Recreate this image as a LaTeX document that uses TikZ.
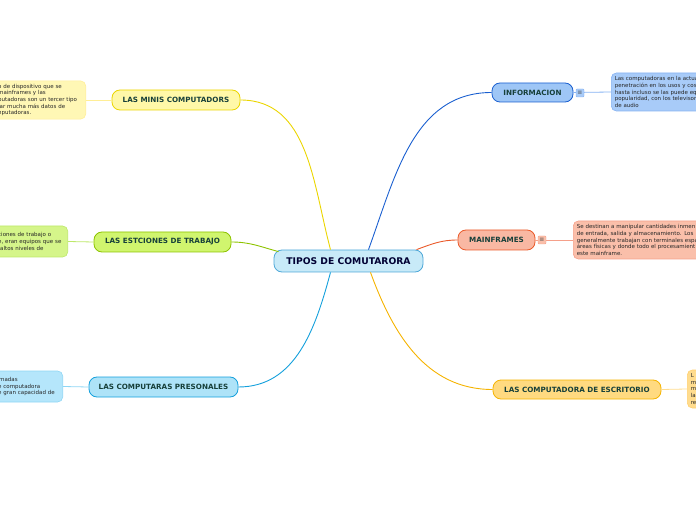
\documentclass[tikz,border=0pt]{standalone}
\usepackage{fontspec}
\setmainfont{DejaVu Sans}
\usepackage{tikz}

\definecolor{inkdark}{HTML}{17403A}
\definecolor{mainfill}{HTML}{C8EAF8}
\definecolor{mainline}{HTML}{4EA8D8}
% topic colours
\definecolor{minifill}{HTML}{FFF8A8}  \definecolor{miniline}{HTML}{EBD500}
\definecolor{estfill}{HTML}{D0F56E}   \definecolor{estline}{HTML}{8DC300}
\definecolor{perfill}{HTML}{AEE3F8}   \definecolor{perline}{HTML}{14A0DC}
\definecolor{inffill}{HTML}{9EC6F6}   \definecolor{infline}{HTML}{1A5FD0}
\definecolor{mfrfill}{HTML}{F9B8A3}   \definecolor{mfrline}{HTML}{EA5A2A}
\definecolor{escfill}{HTML}{FFDA80}   \definecolor{escline}{HTML}{F5B300}
% note colours
\definecolor{nminifill}{HTML}{FFF7B5} \definecolor{nminiline}{HTML}{FFEE96}
\definecolor{nestfill}{HTML}{D5F58A}  \definecolor{nestline}{HTML}{BDE86A}
\definecolor{nperfill}{HTML}{B5E6FB}  \definecolor{nperline}{HTML}{8FD6F5}
\definecolor{ninffill}{HTML}{A8CBF8}  \definecolor{ninfline}{HTML}{86B2F2}
\definecolor{nmfrfill}{HTML}{FABFAA}  \definecolor{nmfrline}{HTML}{F5A08A}
\definecolor{nescfill}{HTML}{FFDC8E}  \definecolor{nescline}{HTML}{FFD070}

\tikzset{
  topicbox/.style={draw, rounded corners=8pt, line width=0.8pt, inner sep=0pt,
    text=inkdark, font=\fontsize{7.2}{8}\selectfont\bfseries},
  notebox/.style={draw, rounded corners=5pt, line width=0.6pt, inner xsep=3.5pt, inner ysep=3pt,
    align=left, text=black!85, font=\fontsize{5.5}{6.7}\selectfont, minimum height=38pt},
  iconbox/.style={draw, rounded corners=1pt, line width=0.4pt, minimum size=8pt, inner sep=0pt,
    font=\fontsize{6}{6}\selectfont, text=black!70},
  branch/.style={line width=0.9pt},
  notelink/.style={line width=0.8pt}
}

\begin{document}
\begin{tikzpicture}[x=1pt,y=1pt]
\useasboundingbox (0,0) rectangle (696,520);
\clip (0,0) rectangle (696,520);

% central topic
\node[topicbox, fill=mainfill, draw=mainline, minimum width=149pt, minimum height=22pt,
  font=\fontsize{9.2}{10}\selectfont\bfseries, text=black!80!blue] (c) at (348.5,259) {TIPOS DE COMUTARORA};

% main topics
\node[topicbox, fill=minifill, draw=miniline, minimum width=128pt, minimum height=20pt] (minis) at (176,420) {LAS MINIS COMPUTADORS};
\node[topicbox, fill=estfill, draw=estline, minimum width=137pt, minimum height=20pt] (estac) at (162.5,278) {LAS ESTCIONES DE TRABAJO};
\node[topicbox, fill=perfill, draw=perline, minimum width=149pt, minimum height=20pt] (perso) at (163.5,133) {LAS COMPUTARAS PRESONALES};
\node[topicbox, fill=inffill, draw=infline, minimum width=81pt, minimum height=19pt] (info) at (532.5,427.5) {INFORMACION};
\node[topicbox, fill=mfrfill, draw=mfrline, minimum width=77pt, minimum height=20pt] (mainf) at (496.5,280) {MAINFRAMES};
\node[topicbox, fill=escfill, draw=escline, minimum width=168pt, minimum height=19pt] (escri) at (577,130.5) {LAS COMPUTADORA DE ESCRITORIO};

% branches from the centre
\draw[branch, miniline] ([xshift=-18pt]c.north) to[out=105,in=0] (minis.east);
\draw[branch, estline] ([xshift=-70pt,yshift=-2pt]c.north) to[out=165,in=0] (estac.east);
\draw[branch, perline] ([xshift=-18pt]c.south) to[out=-105,in=0] (perso.east);
\draw[branch, infline] ([xshift=20pt]c.north) to[out=70,in=180] (info.west);
\draw[branch, mfrline] ([xshift=68pt]c.north) to[out=20,in=180] (mainf.west);
\draw[branch, escline] ([xshift=22pt]c.south) to[out=-70,in=180] (escri.west);

% notes on the left
\node[notebox, anchor=east, text width=84pt, fill=nminifill, draw=nminiline] (nminis) at (86,420)
  {o de dispositivo que se\\mainframes y las\\putadoras son un tercer tipo\\lar mucha más datos de\\nputadoras.};
\node[notebox, anchor=east, text width=66pt, minimum height=31pt, fill=nestfill, draw=nestline] (nestac) at (68,278.5)
  {ciones de trabajo o\\e, eran equipos que se\\\hspace*{2pt}altos niveles de};
\node[notebox, anchor=east, text width=61pt, minimum height=31pt, fill=nperfill, draw=nperline] (nperso) at (63,133.5)
  {\hspace*{1pt}madas\\e computadora\\e gran capacidad de};

% notes on the right
\node[notebox, anchor=west, text width=150pt, fill=ninffill, draw=ninfline] (ninfo) at (611,428)
  {Las computadoras en la actua\\penetración en los usos y cos\\hasta incluso se las puede eq\\popularidad, con los televisor\\de audio};
\node[notebox, anchor=west, text width=170pt, fill=nmfrfill, draw=nmfrline] (nmainf) at (573,280)
  {Se destinan a manipular cantidades inmen\\de entrada, salida y almacenamiento. Los\\generalmente trabajan con terminales espa\\áreas físicas y donde todo el procesamient\\este mainframe.};
\node[notebox, anchor=west, text width=60pt, fill=nescfill, draw=nescline] (nescri) at (687,131)
  {L\\m\\m\\la\\re};

% links to the notes
\draw[notelink, nminiline] (nminis.east) -- (minis.west);
\draw[notelink, nestline] (nestac.east) -- (estac.west);
\draw[notelink, nperline] (nperso.east) -- (perso.west);
\draw[notelink, ninfline] (info.east) -- (ninfo.west);
\draw[notelink, nmfrline] (mainf.east) -- (nmainf.west);
\draw[notelink, nescfill] (escri.east) -- (nescri.west);

% note icons
\node[iconbox, fill=ninffill, draw=ninfline] (iinfo) at (580,427) {≡};
\node[iconbox, fill=nmfrfill, draw=nmfrline] (imainf) at (542,280) {≡};
\end{tikzpicture}
\end{document}
